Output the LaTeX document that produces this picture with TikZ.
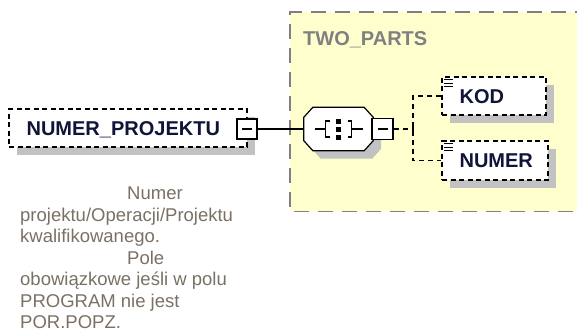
\documentclass[tikz,border=0pt]{standalone}
\usepackage{fontspec}
\setmainfont{Liberation Sans}
\usetikzlibrary{shadows}
\definecolor{grpyellow}{RGB}{255,255,206}
\definecolor{grpgray}{RGB}{128,128,128}
\definecolor{shadowgray}{RGB}{194,194,194}
\definecolor{elemtext}{RGB}{16,20,56}
\definecolor{annotext}{RGB}{122,112,100}
\begin{document}
\begin{tikzpicture}[x=1pt, y=-1pt,
  boxshadow/.style={drop shadow={shadow xshift=8pt, shadow yshift=-8pt, fill=shadowgray, opacity=1}},
  elembox/.style={draw=black, line width=1.2pt, dash pattern=on 5pt off 3.5pt, fill=white, inner sep=0pt, boxshadow},
  minusbox/.style={draw=black, line width=1.2pt, fill=white, minimum width=20pt, minimum height=20pt, inner sep=0pt},
  elemname/.style={font=\fontsize{20}{24}\selectfont\bfseries, text=elemtext, inner sep=0pt, anchor=base west},
  conn/.style={line width=1.2pt, dash pattern=on 5pt off 4pt}]
\useasboundingbox (0,0) rectangle (577,333);
% group (runs past the right edge)
\node[fill=grpyellow, minimum width=300pt, minimum height=199pt, inner sep=0pt, anchor=north west] (grp) at (290,12) {};
\draw[grpgray, line width=1.2pt, dash pattern=on 15pt off 9pt] (grp.north east) -- (grp.north west) -- (grp.south west) -- (grp.south east);
\node[font=\fontsize{20}{24}\selectfont\bfseries, text=grpgray, inner sep=0pt, anchor=base west] (grplbl) at ([shift={(13,33)}]grp.north west) {TWO\_PARTS};
% root element
\node[elembox, minimum width=238pt, minimum height=38pt] (numproj) at (128,128) {};
\node[elemname] (numprojlbl) at ([shift={(18,7)}]numproj.west) {NUMER\_PROJEKTU};
\node[minusbox] (numprojm) at (247,129) {};
\draw[line width=1.2pt] ([xshift=-5pt]numprojm.center) -- ([xshift=5pt]numprojm.center);
% sequence
\node[minimum width=69pt, minimum height=43pt, inner sep=0pt] (seq) at (338.5,129) {};
\draw[line width=1.2pt] (numprojm.east) -- (seq.west);
\draw[line width=1.2pt, fill=white, boxshadow] ([shift={(9,0)}]seq.north west) -- ([shift={(-9,0)}]seq.north east) -- ([shift={(0,10)}]seq.north east) -- ([shift={(0,-10)}]seq.south east) -- ([shift={(-9,0)}]seq.south east) -- ([shift={(9,0)}]seq.south west) -- ([shift={(0,-10)}]seq.south west) -- ([shift={(0,10)}]seq.north west) -- cycle;
\draw[line width=1.2pt] ([shift={(-24,0)}]seq.center) -- ([shift={(-13,0)}]seq.center);
\draw[line width=1.2pt] ([shift={(13,0)}]seq.center) -- ([shift={(24,0)}]seq.center);
\draw[line width=1.2pt] ([shift={(-9,-8)}]seq.center) -- ([shift={(-13,-8)}]seq.center) -- ([shift={(-13,8)}]seq.center) -- ([shift={(-9,8)}]seq.center);
\draw[line width=1.2pt] ([shift={(9,-8)}]seq.center) -- ([shift={(13,-8)}]seq.center) -- ([shift={(13,8)}]seq.center) -- ([shift={(9,8)}]seq.center);
\foreach \dy in {-8,0,8}
  \fill ([shift={(-2.5,\dy-2.5)}]seq.center) rectangle ++(5,5);
\node[minusbox, minimum width=21pt, minimum height=21pt] (seqm) at (382.5,129) {};
\draw[line width=1.2pt] ([xshift=-5pt]seqm.center) -- ([xshift=5pt]seqm.center);
% children
\node[elembox, minimum width=104pt, minimum height=38pt] (kod) at (494,96) {};
\node[elemname] (kodlbl) at ([shift={(18,7)}]kod.west) {KOD};
\node[elembox, minimum width=106pt, minimum height=39pt] (numer) at (495,160.5) {};
\node[elemname] (numerlbl) at ([shift={(18,7)}]numer.west) {NUMER};
\foreach \el in {kod,numer}
  \foreach \dy in {3.5,7,10.5}
    \draw[line width=1pt] ([shift={(3,\dy)}]\el.north west) -- ++(9,0);
\coordinate (split) at (413,129);
\draw[conn] (seqm.east) -- (split);
\draw[conn] (kod.west) -| (split) |- (numer.west);
\draw[line width=1.2pt] ([yshift=-4pt]split) -- ([yshift=4pt]split);
% annotation
\node[font=\fontsize{18.5}{21.5}\selectfont, text=annotext, align=left, inner sep=0pt, anchor=north west] (numprojdoc) at (20,186.7) {\hspace*{107pt}Numer\\projektu/Operacji/Projektu\\kwalifikowanego.\\\hspace*{107pt}Pole\\obowiązkowe jeśli w polu\\PROGRAM nie jest\\POR.POPZ.};
\end{tikzpicture}
\end{document}
